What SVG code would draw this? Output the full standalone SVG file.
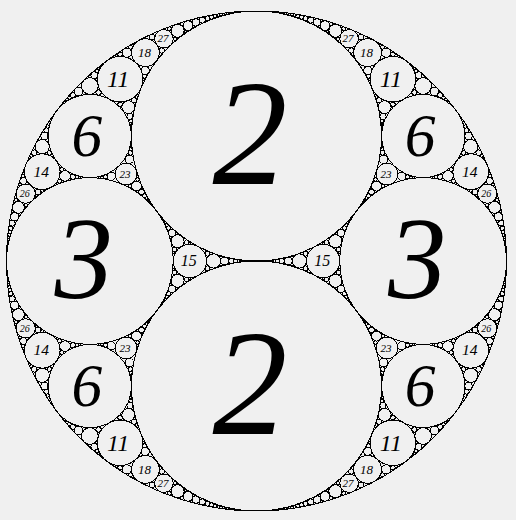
<svg xmlns="http://www.w3.org/2000/svg" xmlns:xlink="http://www.w3.org/1999/xlink" width="516" height="520" viewBox="0 0 516 520">
<style>
circle{fill:none;stroke:#000;stroke-width:1;vector-effect:non-scaling-stroke;shape-rendering:crispEdges}
.t{font-family:"Liberation Serif","Times New Roman",serif;font-style:italic;fill:#000;text-anchor:middle}
</style>
<rect width="516" height="520" fill="#f0f0f0"/>
<g id="gasket" transform="translate(256.5,261) scale(250)">
<defs>
<g id="q">
<circle transform="scale(0.166667)" cx="4" cy="-3" r="1"/>
<circle transform="scale(0.0909091)" cx="6" cy="-8" r="1"/>
<circle transform="scale(0.0555556)" cx="8" cy="-15" r="1"/>
<circle transform="scale(0.037037)" cx="10" cy="-24" r="1"/>
<circle transform="scale(0.0263158)" cx="12" cy="-35" r="1"/>
<circle transform="scale(0.0196078)" cx="14" cy="-48" r="1"/>
<circle transform="scale(0.0151515)" cx="16" cy="-63" r="1"/>
<circle transform="scale(0.0120482)" cx="18" cy="-80" r="1"/>
<circle transform="scale(0.00980392)" cx="20" cy="-99" r="1"/>
<circle transform="scale(0.00813008)" cx="22" cy="-120" r="1"/>
<circle transform="scale(0.00684932)" cx="24" cy="-143" r="1"/>
<circle transform="scale(0.00584795)" cx="26" cy="-168" r="1"/>
<circle transform="scale(0.00505051)" cx="28" cy="-195" r="1"/>
<circle transform="scale(0.00440529)" cx="30" cy="-224" r="1"/>
<circle transform="scale(0.00387597)" cx="32" cy="-255" r="1"/>
<circle transform="scale(0.00343643)" cx="34" cy="-288" r="1"/>
<circle transform="scale(0.00306748)" cx="36" cy="-323" r="1"/>
<circle transform="scale(0.0185185)" cx="28" cy="-45" r="1"/>
<circle transform="scale(0.015873)" cx="28" cy="-48" r="1"/>
<circle transform="scale(0.0116279)" cx="36" cy="-77" r="1"/>
<circle transform="scale(0.0105263)" cx="36" cy="-80" r="1"/>
<circle transform="scale(0.00793651)" cx="44" cy="-117" r="1"/>
<circle transform="scale(0.00740741)" cx="44" cy="-120" r="1"/>
<circle transform="scale(0.00574713)" cx="52" cy="-165" r="1"/>
<circle transform="scale(0.00546448)" cx="52" cy="-168" r="1"/>
<circle transform="scale(0.00434783)" cx="60" cy="-221" r="1"/>
<circle transform="scale(0.0041841)" cx="60" cy="-224" r="1"/>
<circle transform="scale(0.00909091)" cx="60" cy="-91" r="1"/>
<circle transform="scale(0.00537634)" cx="104" cy="-153" r="1"/>
<circle transform="scale(0.0035461)" cx="160" cy="-231" r="1"/>
<circle transform="scale(0.00763359)" cx="66" cy="-112" r="1"/>
<circle transform="scale(0.00413223)" cx="120" cy="-209" r="1"/>
<circle transform="scale(0.00746269)" cx="60" cy="-99" r="1"/>
<circle transform="scale(0.004329)" cx="104" cy="-168" r="1"/>
<circle transform="scale(0.0333333)" cx="20" cy="-21" r="1"/>
<circle transform="scale(0.0169492)" cx="42" cy="-40" r="1"/>
<circle transform="scale(0.0102041)" cx="72" cy="-65" r="1"/>
<circle transform="scale(0.00680272)" cx="110" cy="-96" r="1"/>
<circle transform="scale(0.00485437)" cx="156" cy="-133" r="1"/>
<circle transform="scale(0.00363636)" cx="210" cy="-176" r="1"/>
<circle transform="scale(0.0135135)" cx="48" cy="-55" r="1"/>
<circle transform="scale(0.00724638)" cx="88" cy="-105" r="1"/>
<circle transform="scale(0.0045045)" cx="140" cy="-171" r="1"/>
<circle transform="scale(0.00306748)" cx="204" cy="-253" r="1"/>
<circle transform="scale(0.0105263)" cx="60" cy="-64" r="1"/>
<circle transform="scale(0.025641)" cx="20" cy="-24" r="1"/>
<circle transform="scale(0.0120482)" cx="42" cy="-48" r="1"/>
<circle transform="scale(0.00699301)" cx="72" cy="-80" r="1"/>
<circle transform="scale(0.00456621)" cx="110" cy="-120" r="1"/>
<circle transform="scale(0.00321543)" cx="156" cy="-168" r="1"/>
<circle transform="scale(0.0102041)" cx="48" cy="-63" r="1"/>
<circle transform="scale(0.00546448)" cx="88" cy="-120" r="1"/>
<circle transform="scale(0.00340136)" cx="140" cy="-195" r="1"/>
<circle transform="scale(0.00909091)" cx="60" cy="-69" r="1"/>
<circle transform="scale(0.0714286)" cx="12" cy="-5" r="1"/>
<circle transform="scale(0.0384615)" cx="24" cy="-7" r="1"/>
<circle transform="scale(0.0238095)" cx="40" cy="-9" r="1"/>
<circle transform="scale(0.016129)" cx="60" cy="-11" r="1"/>
<circle transform="scale(0.0116279)" cx="84" cy="-13" r="1"/>
<circle transform="scale(0.00877193)" cx="112" cy="-15" r="1"/>
<circle transform="scale(0.00684932)" cx="144" cy="-17" r="1"/>
<circle transform="scale(0.00549451)" cx="180" cy="-19" r="1"/>
<circle transform="scale(0.0045045)" cx="220" cy="-21" r="1"/>
<circle transform="scale(0.0037594)" cx="264" cy="-23" r="1"/>
<circle transform="scale(0.00318471)" cx="312" cy="-25" r="1"/>
<circle transform="scale(0.00492611)" cx="198" cy="-40" r="1"/>
<circle transform="scale(0.00465116)" cx="204" cy="-40" r="1"/>
<circle transform="scale(0.0133333)" cx="70" cy="-24" r="1"/>
<circle transform="scale(0.0114943)" cx="76" cy="-24" r="1"/>
<circle transform="scale(0.00537634)" cx="176" cy="-57" r="1"/>
<circle transform="scale(0.00458716)" cx="192" cy="-57" r="1"/>
<circle transform="scale(0.00549451)" cx="156" cy="-51" r="1"/>
<circle transform="scale(0.00763359)" cx="126" cy="-32" r="1"/>
<circle transform="scale(0.00699301)" cx="132" cy="-32" r="1"/>
<circle transform="scale(0.00666667)" cx="140" cy="-51" r="1"/>
<circle transform="scale(0.00398406)" cx="234" cy="-88" r="1"/>
<circle transform="scale(0.0285714)" cx="30" cy="-16" r="1"/>
<circle transform="scale(0.0151515)" cx="56" cy="-33" r="1"/>
<circle transform="scale(0.00934579)" cx="90" cy="-56" r="1"/>
<circle transform="scale(0.00632911)" cx="132" cy="-85" r="1"/>
<circle transform="scale(0.00456621)" cx="182" cy="-120" r="1"/>
<circle transform="scale(0.00344828)" cx="240" cy="-161" r="1"/>
<circle transform="scale(0.0111111)" cx="80" cy="-39" r="1"/>
<circle transform="scale(0.00584795)" cx="154" cy="-72" r="1"/>
<circle transform="scale(0.00359712)" cx="252" cy="-115" r="1"/>
<circle transform="scale(0.00900901)" cx="92" cy="-48" r="1"/>
<circle transform="scale(0.0212766)" cx="36" cy="-16" r="1"/>
<circle transform="scale(0.0102041)" cx="72" cy="-33" r="1"/>
<circle transform="scale(0.00598802)" cx="120" cy="-56" r="1"/>
<circle transform="scale(0.00393701)" cx="180" cy="-85" r="1"/>
<circle transform="scale(0.00819672)" cx="96" cy="-39" r="1"/>
<circle transform="scale(0.004329)" cx="184" cy="-72" r="1"/>
<circle transform="scale(0.00763359)" cx="102" cy="-48" r="1"/>
<circle transform="scale(0.0434783)" cx="12" cy="-8" r="1"/>
<circle transform="scale(0.02)" cx="24" cy="-15" r="1"/>
<circle transform="scale(0.0114943)" cx="40" cy="-24" r="1"/>
<circle transform="scale(0.00746269)" cx="60" cy="-35" r="1"/>
<circle transform="scale(0.0052356)" cx="84" cy="-48" r="1"/>
<circle transform="scale(0.00387597)" cx="112" cy="-63" r="1"/>
<circle transform="scale(0.00298507)" cx="144" cy="-80" r="1"/>
<circle transform="scale(0.00680272)" cx="70" cy="-48" r="1"/>
<circle transform="scale(0.00666667)" cx="76" cy="-45" r="1"/>
<circle transform="scale(0.00363636)" cx="126" cy="-80" r="1"/>
<circle transform="scale(0.00359712)" cx="132" cy="-77" r="1"/>
<circle transform="scale(0.0169492)" cx="30" cy="-24" r="1"/>
<circle transform="scale(0.00900901)" cx="56" cy="-48" r="1"/>
<circle transform="scale(0.00558659)" cx="90" cy="-80" r="1"/>
<circle transform="scale(0.00380228)" cx="132" cy="-120" r="1"/>
<circle transform="scale(0.016129)" cx="36" cy="-21" r="1"/>
<circle transform="scale(0.00840336)" cx="72" cy="-40" r="1"/>
<circle transform="scale(0.00515464)" cx="120" cy="-65" r="1"/>
<circle transform="scale(0.00348432)" cx="180" cy="-96" r="1"/>
<circle transform="scale(0.0263158)" cx="12" cy="-3" r="1"/>
<circle transform="scale(0.0140845)" cx="24" cy="-8" r="1"/>
<circle transform="scale(0.00877193)" cx="40" cy="-15" r="1"/>
<circle transform="scale(0.00598802)" cx="60" cy="-24" r="1"/>
<circle transform="scale(0.00434783)" cx="84" cy="-35" r="1"/>
<circle transform="scale(0.00330033)" cx="112" cy="-48" r="1"/>
<circle transform="scale(0.00456621)" cx="70" cy="-24" r="1"/>
<circle transform="scale(0.0045045)" cx="76" cy="-21" r="1"/>
<circle transform="scale(0.00934579)" cx="30" cy="-8" r="1"/>
<circle transform="scale(0.0047619)" cx="56" cy="-15" r="1"/>
<circle transform="scale(0.00909091)" cx="36" cy="-5" r="1"/>
<circle transform="scale(0.00458716)" cx="72" cy="-7" r="1"/>
<circle transform="scale(0.00980392)" cx="20" cy="-3" r="1"/>
<circle transform="scale(0.00505051)" cx="28" cy="-3" r="1"/>
<circle transform="scale(0.00306748)" cx="36" cy="-3" r="1"/>
</g>
<g id="ax">
<circle transform="scale(0.0666667)" cx="4" cy="0" r="1"/>
<circle transform="scale(0.0285714)" cx="6" cy="0" r="1"/>
<circle transform="scale(0.015873)" cx="8" cy="0" r="1"/>
<circle transform="scale(0.010101)" cx="10" cy="0" r="1"/>
<circle transform="scale(0.00699301)" cx="12" cy="0" r="1"/>
<circle transform="scale(0.00512821)" cx="14" cy="0" r="1"/>
<circle transform="scale(0.00392157)" cx="16" cy="0" r="1"/>
<circle transform="scale(0.00309598)" cx="18" cy="0" r="1"/>
</g>
</defs>
<circle id="outer" cx="0" cy="0" r="1"/>
<circle id="top2" cx="0" cy="-0.5" r="0.5"/>
<circle id="bottom2" cx="0" cy="0.5" r="0.5"/>
<circle id="right3" cx="0.666667" cy="0" r="0.333333"/>
<circle id="left3" cx="-0.666667" cy="0" r="0.333333"/>
<use xlink:href="#q"/>
<use xlink:href="#q" transform="scale(-1,1)"/>
<use xlink:href="#q" transform="scale(1,-1)"/>
<use xlink:href="#q" transform="scale(-1,-1)"/>
<use xlink:href="#ax"/>
<use xlink:href="#ax" transform="scale(-1,1)"/>
</g>
<g id="labels" class="t">
<text x="250" y="183.5" font-size="150">2</text>
<text x="250" y="433.5" font-size="150">2</text>
<text x="417.2" y="298" font-size="117">3</text>
<text x="83.8" y="298" font-size="117">3</text>
<text x="420.2" y="156" font-size="61.5">6</text>
<text x="86.8" y="156" font-size="61.5">6</text>
<text x="420.2" y="406" font-size="61.5">6</text>
<text x="86.8" y="406" font-size="61.5">6</text>
<text x="390.9" y="87" font-size="24">11</text>
<text x="118.1" y="87" font-size="24">11</text>
<text x="390.9" y="450.6" font-size="24">11</text>
<text x="118.1" y="450.6" font-size="24">11</text>
<text x="469.8" y="176.8" font-size="15.5">14</text>
<text x="41.2" y="176.8" font-size="15.5">14</text>
<text x="469.8" y="355.4" font-size="15.5">14</text>
<text x="41.2" y="355.4" font-size="15.5">14</text>
<text x="322.2" y="266.3" font-size="16">15</text>
<text x="188.8" y="266.3" font-size="16">15</text>
<text x="366.6" y="57" font-size="13">18</text>
<text x="144.4" y="57" font-size="13">18</text>
<text x="366.6" y="473.6" font-size="13">18</text>
<text x="144.4" y="473.6" font-size="13">18</text>
<text x="385.9" y="177.7" font-size="11">23</text>
<text x="125.1" y="177.7" font-size="11">23</text>
<text x="385.9" y="351.6" font-size="11">23</text>
<text x="125.1" y="351.6" font-size="11">23</text>
<text x="486.3" y="197" font-size="10">26</text>
<text x="24.7" y="197" font-size="10">26</text>
<text x="486.3" y="331.6" font-size="10">26</text>
<text x="24.7" y="331.6" font-size="10">26</text>
<text x="348.1" y="42.4" font-size="11">27</text>
<text x="162.9" y="42.4" font-size="11">27</text>
<text x="348.1" y="486.8" font-size="11">27</text>
<text x="162.9" y="486.8" font-size="11">27</text>
</g>
</svg>
